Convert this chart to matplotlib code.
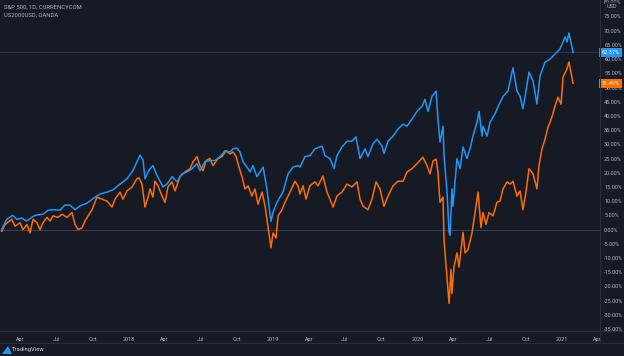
import matplotlib
matplotlib.use("Agg")
import matplotlib.pyplot as plt
import matplotlib.transforms as mtransforms
from matplotlib.patches import Polygon
import numpy as np

# S&P 500 (blue), % change since start, dates as decimal years
spx_t = [2017.118, 2017.152, 2017.194, 2017.222, 2017.256, 2017.291, 2017.326, 2017.349,
         2017.404, 2017.439, 2017.473, 2017.522, 2017.556, 2017.591, 2017.626, 2017.660,
         2017.709, 2017.764, 2017.799, 2017.848, 2017.889, 2017.938, 2017.986, 2018.028,
         2018.076, 2018.097, 2018.111, 2018.132, 2018.146, 2018.166, 2018.194, 2018.215,
         2018.236, 2018.263, 2018.298, 2018.333, 2018.367, 2018.402, 2018.437, 2018.471,
         2018.492, 2018.527, 2018.561, 2018.596, 2018.631, 2018.665, 2018.700, 2018.721,
         2018.748, 2018.769, 2018.790, 2018.818, 2018.839, 2018.859, 2018.887, 2018.908,
         2018.929, 2018.956, 2018.970, 2018.984, 2018.998, 2019.026, 2019.046, 2019.067,
         2019.102, 2019.137, 2019.171, 2019.185, 2019.220, 2019.254, 2019.289, 2019.338,
         2019.358, 2019.393, 2019.421, 2019.441, 2019.476, 2019.511, 2019.545, 2019.573,
         2019.601, 2019.636, 2019.656, 2019.691, 2019.719, 2019.753, 2019.767, 2019.795,
         2019.830, 2019.864, 2019.899, 2019.927, 2019.961, 2019.996, 2020.031, 2020.051,
         2020.072, 2020.100, 2020.128, 2020.141, 2020.155, 2020.176, 2020.183, 2020.204,
         2020.218, 2020.225, 2020.238, 2020.245, 2020.273, 2020.294, 2020.315, 2020.342,
         2020.363, 2020.384, 2020.412, 2020.426, 2020.446, 2020.453, 2020.481, 2020.502,
         2020.536, 2020.557, 2020.592, 2020.626, 2020.661, 2020.689, 2020.710, 2020.730,
         2020.744, 2020.772, 2020.800, 2020.827, 2020.848, 2020.883, 2020.918, 2020.952,
         2020.987, 2021.022, 2021.035, 2021.049, 2021.077]
spx_pct = [0, 3.6, 5, 3.6, 4, 3, 4.3, 5,
           5.4, 6.8, 7, 6.8, 8.6, 8.6, 7, 8.3,
           9.3, 11.4, 12.5, 13.2, 14, 16, 17.9, 20.8,
           26.2, 24.5, 17.9, 20.3, 21.4, 22.5, 19, 17,
           15, 16, 18.6, 16.8, 19.6, 20.3, 21.4, 23.2,
           20.7, 23.9, 24.3, 24.3, 25.7, 27.7, 27.3, 28.4,
           28.7, 27.3, 23.9, 22, 20.3, 22.5, 18.6, 20.3,
           22, 14.3, 8.2, 2.9, 6, 9.6, 11.4, 13.2,
           19.6, 22, 22.5, 22, 25.7, 26, 28.4, 29.4,
           26, 25, 21.4, 26, 29.1, 31.1, 31.1, 32.6,
           25, 28.4, 25.7, 30.2, 31.8, 29.4, 26.8, 31.1,
           32.9, 35.4, 37.1, 36.4, 38.9, 41.6, 43.4, 45.8,
           41.6, 46.9, 48.7, 38.9, 30.8, 36.4, 26, 13.2,
           -1, -2, 14.3, 8.2, 25, 21.4, 29.1, 25,
           28.4, 32.9, 37.8, 41.6, 32.9, 36.4, 32.9, 37.8,
           40.7, 43.2, 46.9, 48.7, 56.9, 48.7, 46.9, 42.5,
           46.6, 55.4, 52.3, 44.2, 54, 58.9, 60, 61.8,
           63.6, 67.8, 66, 69.2, 62.37]

# Russell 2000 (orange)
rut_t = [2017.118, 2017.141, 2017.187, 2017.210, 2017.245, 2017.265, 2017.293, 2017.314,
         2017.335, 2017.362, 2017.383, 2017.404, 2017.432, 2017.453, 2017.473, 2017.508,
         2017.536, 2017.570, 2017.605, 2017.626, 2017.647, 2017.674, 2017.695, 2017.716,
         2017.744, 2017.778, 2017.813, 2017.848, 2017.882, 2017.903, 2017.938, 2017.958,
         2017.986, 2018.021, 2018.055, 2018.069, 2018.090, 2018.111, 2018.132, 2018.146,
         2018.166, 2018.180, 2018.201, 2018.229, 2018.250, 2018.270, 2018.298, 2018.319,
         2018.353, 2018.388, 2018.423, 2018.444, 2018.471, 2018.492, 2018.513, 2018.534,
         2018.561, 2018.582, 2018.617, 2018.645, 2018.672, 2018.700, 2018.721, 2018.742,
         2018.762, 2018.783, 2018.804, 2018.825, 2018.852, 2018.873, 2018.894, 2018.922,
         2018.943, 2018.963, 2018.984, 2018.998, 2019.019, 2019.033, 2019.060, 2019.081,
         2019.116, 2019.150, 2019.171, 2019.185, 2019.206, 2019.227, 2019.254, 2019.289,
         2019.310, 2019.344, 2019.372, 2019.393, 2019.414, 2019.441, 2019.476, 2019.511,
         2019.545, 2019.580, 2019.601, 2019.622, 2019.656, 2019.684, 2019.712, 2019.739,
         2019.767, 2019.795, 2019.830, 2019.864, 2019.899, 2019.927, 2019.961, 2019.996,
         2020.037, 2020.065, 2020.086, 2020.107, 2020.128, 2020.141, 2020.155, 2020.176,
         2020.183, 2020.204, 2020.218, 2020.231, 2020.238, 2020.252, 2020.273, 2020.287,
         2020.315, 2020.329, 2020.349, 2020.377, 2020.398, 2020.419, 2020.439, 2020.453,
         2020.474, 2020.495, 2020.523, 2020.550, 2020.571, 2020.592, 2020.620, 2020.640,
         2020.661, 2020.689, 2020.710, 2020.730, 2020.751, 2020.772, 2020.800, 2020.827,
         2020.841, 2020.862, 2020.883, 2020.904, 2020.931, 2020.952, 2020.973, 2020.994,
         2021.008, 2021.035, 2021.049, 2021.077]
rut_pct = [-0.6, 1.8, 3.6, 1.2, 2.4, 0, 1.8, -1.2,
           3.6, 2.4, 0, 2.4, 4.3, 3, 4.8, 4.3,
           5.4, 4.3, 6, 1.8, 0, 0.6, 3, 4.8,
           7, 11.4, 10.7, 10, 7.9, 10.7, 13.2, 10.7,
           13.6, 15, 17.9, 18.2, 16, 7.9, 11.4, 14.3,
           11.4, 17, 15.4, 11.8, 9.6, 15, 16.8, 13.6,
           18.6, 20.3, 21.4, 23.9, 25.7, 22.5, 20.7, 24.3,
           25, 22.5, 25, 25.7, 27.7, 26.6, 27.3, 25.7,
           22, 18.6, 14.3, 15.4, 11.8, 14.3, 8.9, 13.2,
           8.2, 1, -6.4, -1.2, -3, 4.8, 7, 9.6,
           13.2, 17, 15.4, 12.5, 15.4, 10.7, 15.4, 16.8,
           15.4, 18.9, 13.2, 10.7, 7.9, 11.8, 13.2, 16,
           15, 16.8, 10.7, 8.2, 7, 10.7, 16.8, 14.3,
           8.2, 11.8, 15.4, 17, 17, 20.3, 21.4, 23.2,
           25.5, 22.5, 19.6, 24.1, 24.8, 20.3, 9.6, 11.4,
           -3.6, -16.8, -26, -14, -22.5, -13.2, -8.2, -13.2,
           -1, -8.2, -7.1, -1.2, 6, 13.2, 0.7, 6,
           1.8, 6, 4.8, 9.6, 10, 14.3, 16.8, 16,
           17, 11.8, 13.6, 7, 13.2, 21.4, 19.6, 14.3,
           22.5, 28.4, 31.8, 36.1, 39.6, 43.4, 46.6, 44.1,
           53.7, 56.5, 59, 51.49]

y_ticks = list(range(-35, 81, 5))
x_ticks = [2017.247, 2017.496, 2017.748, 2018.0, 2018.247, 2018.496, 2018.748,
           2019.0, 2019.247, 2019.496, 2019.748, 2020.0, 2020.247, 2020.496,
           2020.748, 2021.0, 2021.247]
x_labels = ["Apr", "Jul", "Oct", "2018", "Apr", "Jul", "Oct", "2019", "Apr", "Jul",
            "Oct", "2020", "Apr", "Jul", "Oct", "2021", "Apr"]

BG = "#161a25"
TXT = "#b2b5be"
GRID = "#2a2e39"
BLUE = "#2196f3"
ORANGE = "#ff6d00"

plt.rcParams["font.family"] = ["Roboto", "DejaVu Sans"]

W, H = 624, 356
fig = plt.figure(figsize=(W / 100, H / 100), dpi=100, facecolor=BG)
ax = fig.add_axes([0, 25 / H, 600 / W, 331 / H])
ax.set_facecolor(BG)

ax.axhline(0, color="#3a3e4a", lw=0.8, zorder=1)
ax.axhline(spx_pct[-1], color="#24364f", lw=0.8, zorder=1)

ax.plot(rut_t, rut_pct, color=ORANGE, lw=1.1, zorder=3)
ax.plot(spx_t, spx_pct, color=BLUE, lw=1.1, zorder=4)

ax.set_xlim(2017.106, 2021.264)
ax.set_ylim(-35.7, 80.8)

for s in ax.spines.values():
    s.set_visible(False)

ax.yaxis.tick_right()
ax.set_yticks(y_ticks)
ax.set_yticklabels([f"{v:.2f}%" for v in y_ticks])
ax.set_xticks(x_ticks)
ax.set_xticklabels(x_labels)
ax.tick_params(axis="y", length=0, pad=3, labelsize=4.0, labelcolor=TXT)
ax.tick_params(axis="x", length=0, pad=4, labelsize=4.0, labelcolor=TXT)

# last value tags on price axis
trans = mtransforms.blended_transform_factory(ax.transAxes, ax.transData)
ax.text(1.0025, spx_pct[-1], f"{spx_pct[-1]:.2f}%", transform=trans, fontsize=4.0,
        color="white", va="center", ha="left", zorder=10,
        bbox=dict(boxstyle="square,pad=0.4", fc=BLUE, ec="none"))
ax.text(1.0025, rut_pct[-1], f"{rut_pct[-1]:.2f}%", transform=trans, fontsize=4.0,
        color="#fff3e0", va="center", ha="left", zorder=10,
        bbox=dict(boxstyle="square,pad=0.4", fc=ORANGE, ec="none"))

# frame lines
fig.add_artist(plt.Line2D([600 / W, 600 / W], [1 - 343 / H, 1], color=GRID, lw=0.8))
fig.add_artist(plt.Line2D([0, 1], [1 - 331 / H] * 2, color=GRID, lw=0.8))
fig.add_artist(plt.Line2D([0, 1], [1 - 343 / H] * 2, color=GRID, lw=0.8))

# headers
fig.text(4 / W, 1 - 7 / H, "S&P 500, 1D, CURRENCYCOM", fontsize=4.2, color=TXT, va="center")
fig.text(4 / W, 1 - 15 / H, "US2000USD, OANDA", fontsize=4.2, color=TXT, va="center")
fig.text(612 / W, 1 - 7 / H, "USD", fontsize=4.0, color=TXT, va="center", ha="center",
         zorder=20, bbox=dict(boxstyle="round,pad=0.3", fc=BG, ec=GRID, lw=0.5))

# footer logo
fig.add_artist(Polygon([[2 / W, 1 - 354 / H], [8 / W, 1 - 346 / H], [12 / W, 1 - 354 / H]],
                       closed=True, fc=BLUE, ec="none", transform=fig.transFigure))
fig.text(12 / W, 1 - 350 / H, "TradingView", fontsize=4.2, color="#d1d4dc", va="center")

fig.savefig("out.png", dpi=100, facecolor=BG)
